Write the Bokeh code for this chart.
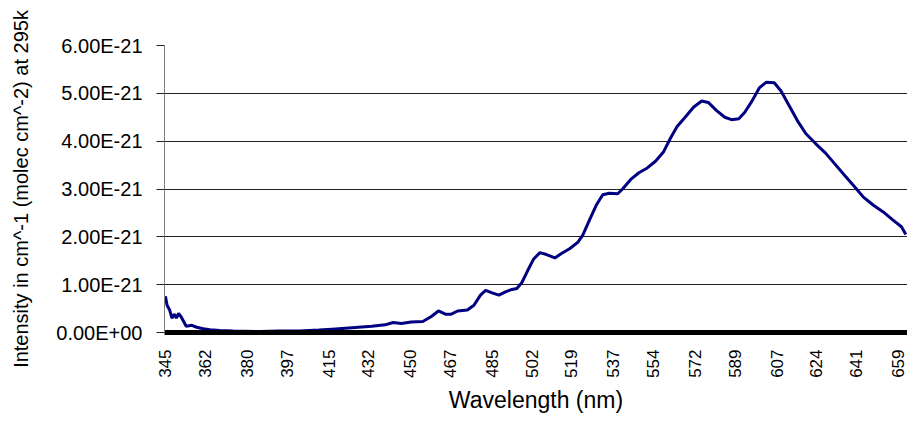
import math
from bokeh.plotting import figure
from bokeh.models import Range1d, FixedTicker
from bokeh.embed import file_html
from bokeh.resources import INLINE

# Wavelength (nm) and intensity (units of 1e-21 cm^-1 / (molec cm^-2))
wavelength = [345.0, 345.7, 346.8, 347.8, 348.8, 349.7, 350.6, 351.7, 352.8, 353.9,
              356.3, 358.4, 361.2, 364.1, 368.3, 374.0, 385.3, 393.8, 402.3, 410.8,
              416.4, 424.9, 433.4, 439.1, 442.6, 446.1, 450.3, 455.3, 458.8, 462.0,
              465.2, 467.3, 470.2, 474.4, 477.2, 480.0, 482.2, 485.0, 487.9, 490.7,
              493.5, 495.6, 497.7, 500.2, 502.7, 505.5, 508.3, 511.9, 514.7, 518.2,
              521.8, 523.9, 526.7, 529.6, 532.4, 535.2, 538.8, 540.9, 544.4, 547.9,
              551.5, 555.0, 558.5, 561.4, 564.2, 567.7, 571.3, 574.8, 577.6, 581.2,
              584.7, 587.6, 590.7, 593.2, 596.0, 599.6, 602.4, 605.9, 608.8, 612.3,
              615.8, 619.4, 623.6, 627.9, 632.1, 636.3, 640.6, 644.1, 648.4, 652.6,
              656.8, 660.4, 662.3]
intensity_e21 = [0.76, 0.57, 0.47, 0.30, 0.38, 0.30, 0.40, 0.33, 0.23, 0.13,
                 0.15, 0.11, 0.08, 0.06, 0.04, 0.03, 0.02, 0.03, 0.03, 0.05,
                 0.07, 0.10, 0.13, 0.16, 0.21, 0.19, 0.22, 0.23, 0.33, 0.45,
                 0.38, 0.38, 0.45, 0.47, 0.57, 0.78, 0.88, 0.83, 0.78, 0.85,
                 0.90, 0.92, 1.04, 1.29, 1.53, 1.67, 1.63, 1.56, 1.65, 1.75,
                 1.89, 2.04, 2.35, 2.66, 2.88, 2.91, 2.90, 3.00, 3.20, 3.34,
                 3.44, 3.58, 3.78, 4.06, 4.30, 4.50, 4.71, 4.84, 4.81, 4.64,
                 4.50, 4.45, 4.47, 4.60, 4.81, 5.12, 5.23, 5.22, 5.05, 4.74,
                 4.43, 4.16, 3.95, 3.75, 3.51, 3.27, 3.03, 2.83, 2.66, 2.52,
                 2.35, 2.21, 2.05]

x_ticks = [345, 362, 380, 397, 415, 432, 450, 467, 485, 502, 519, 537, 554,
           572, 589, 607, 624, 641, 659]
y_ticks = [0, 1, 2, 3, 4, 5, 6]
y_tick_labels = ["0.00E+00", "1.00E-21", "2.00E-21", "3.00E-21", "4.00E-21",
                 "5.00E-21", "6.00E-21"]

FONT = "Liberation Sans"

p = figure(width=907, height=415, output_backend="svg", toolbar_location=None,
           x_range=Range1d(344.6, 663.0), y_range=Range1d(0, 6),
           min_border_left=164, min_border_right=0, min_border_top=45,
           min_border_bottom=77)
p.outline_line_color = None
p.background_fill_color = "white"
p.border_fill_color = "white"

p.line(wavelength, intensity_e21, line_color="#000080", line_width=3)

# x axis
xa = p.xaxis[0]
xa.ticker = FixedTicker(ticks=x_ticks)
xa.major_label_orientation = math.pi / 2
xa.major_label_text_font = FONT
xa.major_label_text_font_size = "17px"
xa.major_label_text_color = "black"
xa.major_label_standoff = 11
xa.major_tick_line_color = None
xa.minor_tick_line_color = None
xa.axis_line_color = "black"
xa.axis_line_width = 5
xa.axis_label = "Wavelength (nm)"
xa.axis_label_text_font = FONT
xa.axis_label_text_font_size = "23px"
xa.axis_label_text_font_style = "normal"
xa.axis_label_text_color = "black"
xa.axis_label_standoff = 6

# y axis
ya = p.yaxis[0]
ya.ticker = FixedTicker(ticks=y_ticks)
ya.major_label_overrides = {t: lab for t, lab in zip(y_ticks, y_tick_labels)}
ya.major_label_text_font = FONT
ya.major_label_text_font_size = "20px"
ya.major_label_text_color = "black"
ya.major_label_standoff = 14
ya.major_tick_in = 0
ya.major_tick_out = 8
ya.major_tick_line_color = "#222222"
ya.minor_tick_line_color = None
ya.axis_line_color = "#808080"
ya.axis_line_width = 1
ya.axis_label = "Intensity in cm^-1 (molec cm^-2) at 295k"
ya.axis_label_text_font = FONT
ya.axis_label_text_font_size = "20px"
ya.axis_label_text_font_style = "normal"
ya.axis_label_text_color = "black"
ya.axis_label_standoff = 21

p.xgrid.grid_line_color = None
p.ygrid.grid_line_color = "#222222"
p.ygrid.grid_line_width = 1

open("out.html", "w").write(file_html(p, INLINE))
